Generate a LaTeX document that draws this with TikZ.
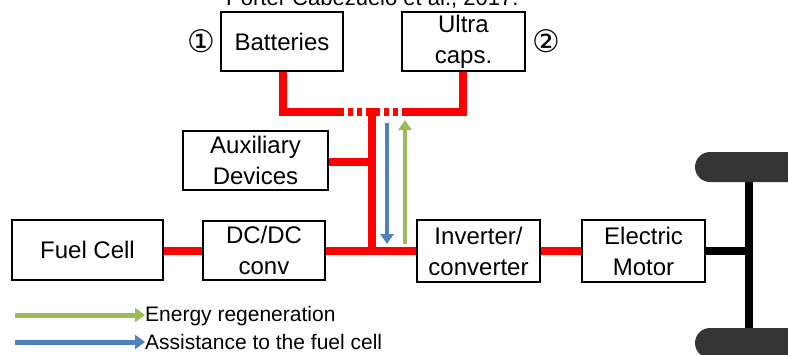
\documentclass[tikz,border=0pt]{standalone}
\usepackage{fontspec}
\setmainfont{Liberation Sans}
\newfontfamily\symfont{DejaVu Sans}
\usetikzlibrary{arrows.meta}
\definecolor{abl}{HTML}{4F81BD}
\definecolor{agr}{HTML}{9BBB59}
\definecolor{bus}{HTML}{FF0000}
\definecolor{whl}{HTML}{353535}
\tikzset{
  blk/.style={draw=black, line width=2.8pt, fill=white, inner sep=0pt, align=center,
    font=\fontsize{24}{31}\selectfont},
  pwr/.style={draw=bus, line width=8pt},
  mech/.style={draw=black, line width=8pt},
  flow/.style={line width=4pt, -{Triangle[length=10pt,width=13pt]}},
  lflow/.style={line width=5pt, -{Triangle[length=10pt,width=14pt]}},
  lbl/.style={anchor=west, inner sep=0pt, font=\fontsize{21}{25}\selectfont},
  circ/.style={inner sep=0pt, font=\symfont\fontsize{31}{35}\selectfont},
  gap/.style={fill=white, draw=none},
}
\begin{document}
\begin{tikzpicture}[x=1pt,y=-1pt]
\useasboundingbox (0,0) rectangle (788,354);
% title (cut off at top)
\node[anchor=base west, inner sep=0pt, font=\fontsize{22}{26}\selectfont] (title) at (226,5) {Porter Cabezuelo et al., 2017.};
% coordinates of bus
\coordinate (busL) at (283,112);
\coordinate (busR) at (463,112);
\coordinate (tT) at (372,112);
\coordinate (tB) at (372,251);
% red connections
\draw[pwr, line join=miter] (283,71) -- (busL) -- (busR) -- (463,71);
\draw[pwr] (tT) -- (tB);
\draw[pwr] (327,162) -- (372,162);
\draw[pwr] (160,251) -- (206,251);
\draw[pwr] (323,251) -- (419,251);
\draw[pwr] (538,251) -- (584,251);
% gaps in bus
\foreach \gx in {346,355,364,382,391,400}
  \fill[gap] (\gx-1.6,106) rectangle (\gx+1.6,118);
% mechanical
\draw[mech] (703,251) -- (749,251);
\draw[mech] (749,178) -- (749,332);
\fill[whl, rounded corners=15pt] (695,152) rectangle (810,182);
\fill[whl, rounded corners=15pt] (695,328) rectangle (810,358);
% boxes
\node[blk, minimum width=122pt, minimum height=59pt] (bat) at (282,41.5) {Batteries};
\node[blk, minimum width=123pt, minimum height=59pt] (uc) at (463.5,41.5) {Ultra\\caps.};
\node[blk, minimum width=145pt, minimum height=59pt] (aux) at (255.5,160.5) {Auxiliary\\Devices};
\node[blk, minimum width=151pt, minimum height=60pt] (fc) at (87.5,250) {Fuel Cell};
\node[blk, minimum width=122pt, minimum height=59pt] (dcdc) at (264,250.5) {DC/DC\\conv};
\node[blk, minimum width=123pt, minimum height=62pt] (inv) at (478.5,251) {Inverter/\\converter};
\node[blk, minimum width=123pt, minimum height=62pt] (mot) at (643.5,251) {Electric\\Motor};
% circled numbers
\node[circ] (n1) at (201,41) {①};
\node[circ] (n2) at (546,41) {②};
% flow arrows
\coordinate (bA) at (387,123);
\coordinate (bB) at (387,244);
\coordinate (gA) at (405,244);
\coordinate (gB) at (405,120);
\draw[flow, abl] (bA) -- (bB);
\draw[flow, agr] (gA) -- (gB);
% legend
\coordinate (l1) at (15,315);
\coordinate (l2) at (15,342);
\node[lbl] (t1) at (145,316) {Energy regeneration};
\node[lbl] (t2) at (145,342) {Assistance to the fuel cell};
\draw[lflow, agr] (l1) -- (t1.west |- l1);
\draw[lflow, abl] (l2) -- (t2.west |- l2);
\end{tikzpicture}
\end{document}
